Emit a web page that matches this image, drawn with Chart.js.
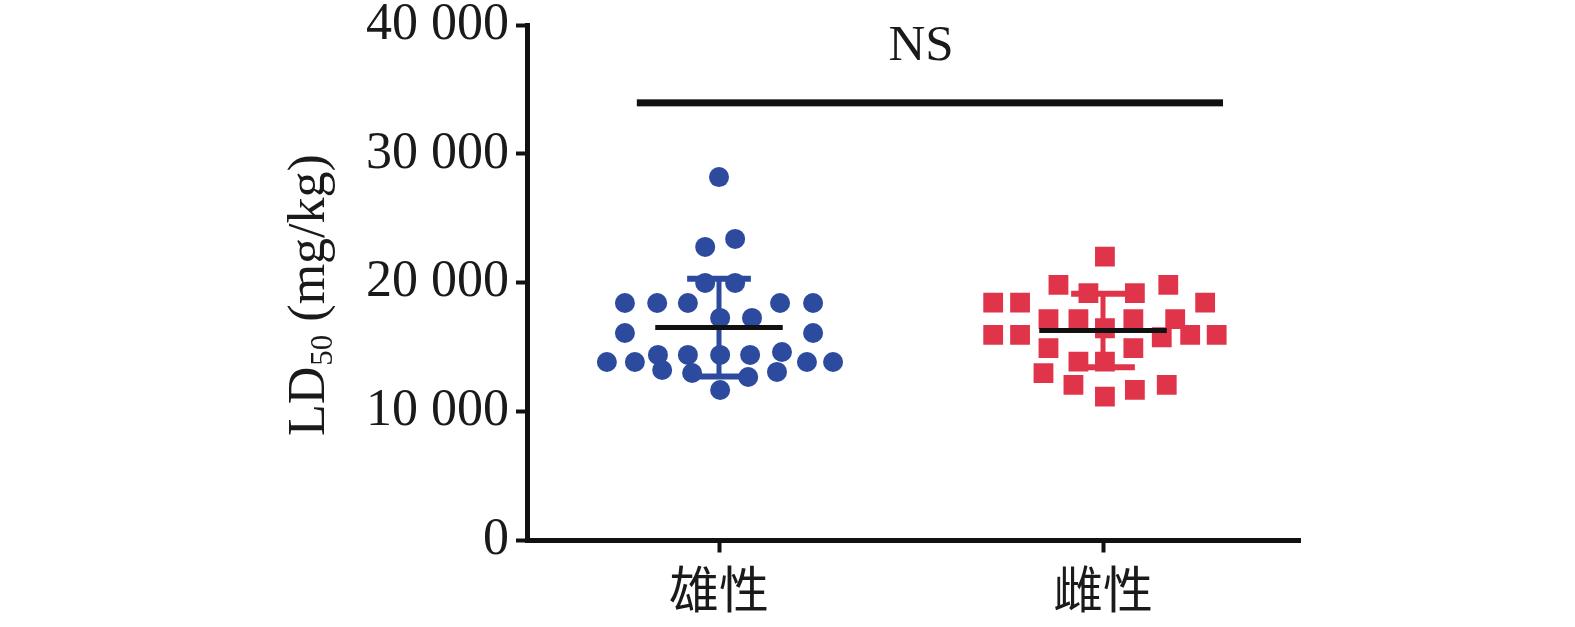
<!DOCTYPE html>
<html>
<head>
<meta charset="utf-8">
<style>
  html, body { margin: 0; padding: 0; background: #fff; }
  #wrap { width: 1575px; height: 627px; }
</style>
<script src="https://cdn.jsdelivr.net/npm/chart.js@4.4.1/dist/chart.umd.min.js"></script>
</head>
<body>
<div id="wrap"><canvas id="ld50Chart"></canvas></div>
<script>
// groups on the x axis
const groups = ["雄性", "雌性"];
const yTicks = [0, 10000, 20000, 30000, 40000];

// LD50 values (mg/kg), with their horizontal spread
const maleValues = [28200, 22780, 23400, 19990, 19990,
    18430, 18430, 18430, 18430, 18430, 17270, 17270, 16100, 16100,
    13850, 13850, 13850, 13850, 14400, 14400, 14400, 14400, 14630,
    13230, 13000, 12690, 13080, 11680];
const maleOffsets = [0, -0.036, 0.042, -0.036, 0.042,
    -0.245, -0.161, -0.081, 0.159, 0.245, 0.003, 0.086, -0.245, 0.245,
    -0.292, -0.219, 0.229, 0.297, -0.159, -0.081, 0.003, 0.081, 0.164,
    -0.148, -0.070, 0.076, 0.151, 0.003];

const femaleValues = [22030, 19830, 19830, 19190, 19190,
    18460, 18460, 18460, 17170, 17170, 17170, 17170, 16470,
    15950, 15950, 15950, 15950, 15770, 14920, 14920, 13880, 13880,
    12980, 12070, 12070, 11680, 11160];
const femaleOffsets = [0.005, -0.116, 0.170, -0.038, 0.083,
    -0.286, -0.216, 0.266, -0.142, -0.064, 0.079, 0.188, 0.005,
    -0.286, -0.216, 0.227, 0.296, 0.153, -0.142, 0.079, -0.064, 0.005,
    -0.155, -0.077, 0.166, 0.083, 0.005];

// mean and SD per group
const means = [16520, 16300];
const sds = [3800, 2850];

// significance bar
const nsLabel = "NS";
const nsLevel = 33960;
const nsFrom = 0.786;
const nsTo = 2.3125;

const BLUE = "#2c4a9e";
const RED = "#e0344a";
const INK = "#111111";
const meanHalf = 0.166;
const capHalf = 0.083;

function seg(x1, y1, x2, y2) {
    return [{ x: x1, y: y1 }, { x: x2, y: y2 }];
}

function lineSet(data, color, width, order) {
    return {
        type: "scatter",
        data: data,
        showLine: true,
        borderColor: color,
        borderWidth: width,
        borderCapStyle: "butt",
        pointRadius: 0,
        pointHoverRadius: 0,
        order: order
    };
}

const datasets = [
    {
        label: groups[0],
        data: maleValues.map((v, i) => ({ x: 1 + maleOffsets[i], y: v })),
        pointStyle: "circle",
        pointRadius: 10,
        backgroundColor: BLUE,
        borderWidth: 0,
        order: 5
    },
    {
        label: groups[1],
        data: femaleValues.map((v, i) => ({ x: 2 + femaleOffsets[i], y: v })),
        pointStyle: "rect",
        pointRadius: 14,
        backgroundColor: RED,
        borderWidth: 0,
        order: 5
    }
];

[BLUE, RED].forEach(function (color, g) {
    const cx = g + 1;
    const lo = means[g] - sds[g];
    const hi = means[g] + sds[g];
    datasets.push(lineSet(seg(cx, lo, cx, hi), color, 5, 3));
    datasets.push(lineSet(seg(cx - capHalf, hi, cx + capHalf, hi), color, 6, 3));
    datasets.push(lineSet(seg(cx - capHalf, lo, cx + capHalf, lo), color, 6, 3));
    datasets.push(lineSet(seg(cx - meanHalf, means[g], cx + meanHalf, means[g]), INK, 5, 1));
});

const extras = {
    id: "extras",
    afterDraw(chart) {
        const ctx = chart.ctx;
        const xs = chart.scales.x;
        const ys = chart.scales.y;
        ctx.save();
        // NS bar
        const yb = ys.getPixelForValue(nsLevel);
        ctx.fillStyle = INK;
        ctx.fillRect(xs.getPixelForValue(nsFrom), yb - 3.5, xs.getPixelForValue(nsTo) - xs.getPixelForValue(nsFrom), 7);
        ctx.font = "51px 'Liberation Serif'";
        ctx.textAlign = "center";
        ctx.textBaseline = "alphabetic";
        ctx.fillStyle = "#1a1a1a";
        ctx.fillText(nsLabel, 921, 60);

        // y axis title with subscript
        ctx.translate(324, 436);
        ctx.rotate(-Math.PI / 2);
        ctx.textAlign = "left";
        ctx.font = "52px 'Liberation Serif'";
        ctx.fillText("LD", 0, 0);
        let w = ctx.measureText("LD").width;
        ctx.font = "31px 'Liberation Serif'";
        ctx.fillText("50", w + 1, 8);
        w += ctx.measureText("50").width + 1;
        ctx.font = "52px 'Liberation Serif'";
        ctx.fillText(" (mg/kg)", w, 0);
        ctx.restore();
    }
};

const ctx = document.getElementById("ld50Chart").getContext("2d");
const ld50Chart = new Chart(ctx, {
    type: "scatter",
    data: { datasets: datasets },
    options: {
        responsive: true,
        maintainAspectRatio: false,
        animation: false,
        devicePixelRatio: 1,
        layout: { padding: { left: 0, right: 275, top: 25, bottom: 0 } },
        plugins: {
            legend: { display: false },
            tooltip: { enabled: false }
        },
        scales: {
            x: {
                type: "linear",
                min: 0.5,
                max: 2.513,
                afterBuildTicks: function (scale) {
                    scale.ticks = groups.map((g, i) => ({ value: i + 1 }));
                },
                afterFit: function (scale) {
                    scale.height = 86.5;
                    scale.paddingLeft = 0;
                    scale.paddingRight = 0;
                },
                border: { display: true, color: INK, width: 5 },
                grid: { drawOnChartArea: false, drawTicks: true, tickLength: 12, tickWidth: 4, color: INK },
                ticks: {
                    padding: 6,
                    color: "#1a1a1a",
                    font: { family: "'Noto Sans CJK SC'", size: 50 },
                    callback: function (v) { return groups[v - 1]; }
                }
            },
            y: {
                min: 0,
                max: 40000,
                afterBuildTicks: function (scale) {
                    scale.ticks = yTicks.map(v => ({ value: v }));
                },
                afterFit: function (scale) {
                    scale.width = 527;
                    scale.paddingTop = 0;
                    scale.paddingBottom = 0;
                },
                border: { display: true, color: INK, width: 5 },
                grid: { drawOnChartArea: false, drawTicks: true, tickLength: 11, tickWidth: 4, color: INK },
                ticks: {
                    padding: 7,
                    color: "#1a1a1a",
                    font: { family: "'Liberation Serif'", size: 52 },
                    callback: function (v) {
                        return String(v).replace(/\B(?=(\d{3})+(?!\d))/g, " ");
                    }
                }
            }
        }
    },
    plugins: [extras]
});
</script>
</body>
</html>
